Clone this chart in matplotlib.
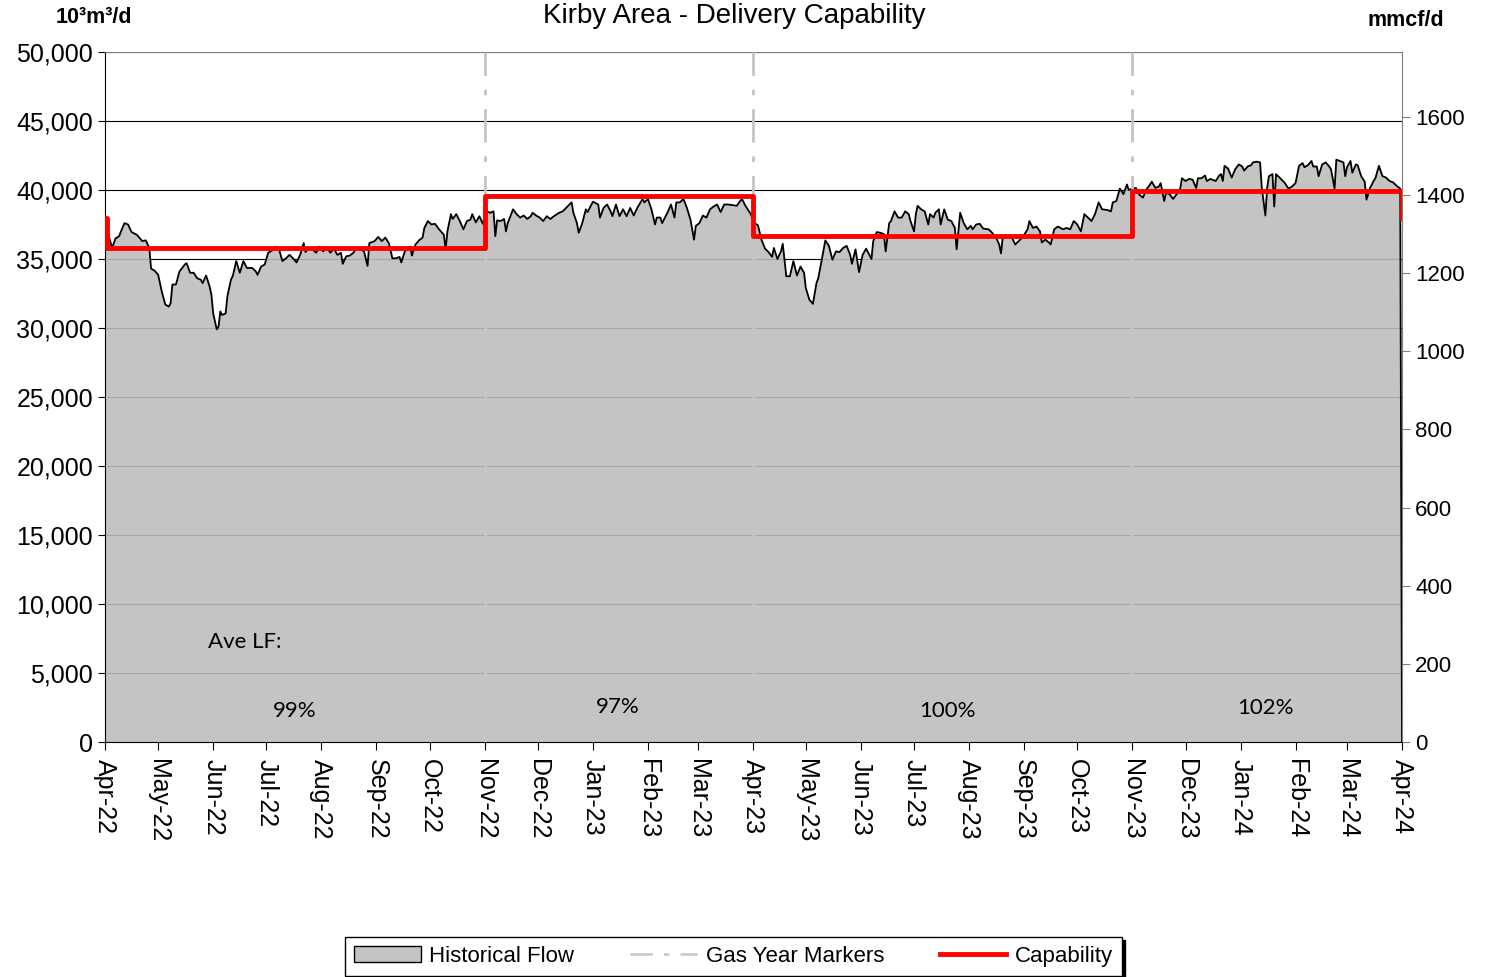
import numpy as np
import matplotlib
matplotlib.use('Agg')
import matplotlib.pyplot as plt
import matplotlib.dates as mdates
from matplotlib.lines import Line2D
from matplotlib.patches import Patch

plt.rcParams['font.family'] = ['Liberation Sans', 'DejaVu Sans']

start = np.datetime64('2022-04-01')

# historical flow, 10^3 m3/d (day offset from Apr 1 2022)
flow_days = [0, 1, 4, 6, 8, 9, 11, 13, 15, 18, 21, 23, 25, 26, 28, 30, 32, 34, 36, 37,
             38, 40, 42, 45, 46, 48, 50, 52, 54, 55, 57, 59, 60, 61, 63, 64, 65, 66, 68, 69,
             71, 72, 74, 76, 78, 80, 83, 85, 86, 88, 90, 92, 94, 96, 98, 100, 102, 104, 106, 108,
             110, 112, 113, 115, 117, 119, 121, 123, 125, 127, 129, 131, 133, 134, 136, 138, 140, 142, 144, 146,
             148, 149, 152, 154, 156, 158, 160, 162, 164, 166, 167, 169, 172, 173, 175, 177, 179, 180, 182, 184,
             186, 188, 191, 192, 193, 195, 196, 198, 200, 202, 204, 206, 207, 209, 211, 213, 215, 217, 219, 220,
             221, 223, 225, 226, 227, 230, 232, 234, 236, 238, 240, 241, 243, 245, 247, 249, 251, 253, 256, 258,
             261, 263, 264, 266, 267, 269, 271, 272, 275, 278, 279, 281, 283, 285, 286, 288, 290, 292, 294, 296,
             298, 300, 303, 304, 306, 308, 310, 311, 313, 314, 317, 319, 321, 322, 324, 326, 328, 330, 332, 333,
             335, 337, 339, 341, 343, 345, 347, 349, 351, 354, 356, 358, 359, 361, 363, 364, 366, 368, 370, 372,
             374, 376, 377, 379, 381, 382, 384, 386, 388, 390, 392, 394, 395, 397, 399, 401, 402, 404, 406, 408,
             410, 412, 414, 416, 418, 420, 421, 423, 425, 427, 429, 432, 433, 435, 437, 439, 440, 442, 443, 445,
             447, 449, 451, 453, 454, 456, 457, 458, 460, 462, 464, 465, 467, 468, 470, 471, 473, 475, 477, 479,
             480, 482, 484, 486, 488, 489, 491, 493, 495, 498, 500, 502, 504, 505, 506, 509, 511, 513, 515, 517,
             520, 521, 523, 525, 527, 528, 530, 532, 533, 535, 537, 540, 542, 544, 546, 548, 550, 552, 554, 556,
             558, 560, 562, 565, 567, 568, 570, 572, 574, 576, 577, 579, 581, 583, 585, 587, 589, 590, 592, 594,
             595, 597, 598, 600, 602, 604, 606, 607, 609, 611, 613, 615, 616, 618, 620, 621, 623, 626, 628, 629,
             630, 631, 633, 635, 637, 639, 641, 642, 644, 646, 647, 649, 651, 652, 654, 655, 656, 658, 659, 660,
             662, 665, 667, 669, 671, 673, 675, 676, 678, 680, 681, 683, 684, 686, 688, 690, 691, 693, 694, 696,
             698, 699, 700, 702, 703, 705, 706, 708, 710, 711, 713, 715, 716, 718, 720, 722, 724, 726, 728, 730,
             731]
flow_vals = [37300, 37200, 35800, 36500, 36650, 37000, 37600, 37500, 36950, 36750, 36300, 36350, 35800, 34300, 34150, 33850, 32650, 31700, 31550, 31800,
             33150, 33150, 34100, 34600, 34700, 34000, 34000, 33600, 33500, 33250, 33800, 33000, 32400, 31050, 29900, 30100, 31200, 30950, 31050, 32300,
             33500, 33750, 34850, 34000, 34850, 34350, 34350, 34100, 33850, 34450, 34600, 35450, 35600, 35900, 35750, 34850, 35050, 35300, 35050, 34750,
             35300, 36150, 35500, 35800, 35700, 35450, 35900, 35550, 35850, 35450, 35750, 35300, 35450, 34650, 35200, 35250, 35450, 35850, 35700, 35550,
             34500, 36150, 36300, 36600, 36300, 36550, 36150, 35050, 35050, 35150, 34750, 35550, 35900, 35250, 36050, 36350, 36550, 37250, 37750, 37500,
             37550, 37200, 36750, 35700, 37000, 38250, 37900, 38250, 37750, 37150, 37750, 37850, 38250, 37650, 38100, 37550, 38450, 38350, 38450, 36650,
             37800, 37750, 37900, 37000, 37600, 38600, 38250, 38000, 38150, 37900, 38100, 38350, 38150, 38000, 37750, 38100, 37900, 38100, 38350, 38450,
             38850, 39100, 38350, 37600, 36900, 37600, 38600, 38400, 39150, 38950, 38000, 38700, 38950, 38450, 38100, 38950, 38100, 38600, 38100, 38700,
             38150, 38700, 39350, 39100, 39350, 38600, 37500, 38000, 38000, 37600, 38350, 38950, 38000, 39100, 39100, 39350, 38700, 37850, 36400, 37400,
             37600, 38150, 38000, 38600, 38800, 38950, 38400, 38950, 38950, 38900, 38850, 39200, 39350, 38850, 38450, 38250, 37600, 37450, 36400, 35750,
             35500, 35150, 35800, 35000, 35550, 36100, 33750, 33750, 34850, 33800, 34450, 34000, 32900, 32050, 31750, 33250, 33600, 34950, 36350, 35950,
             34950, 35550, 35500, 35800, 35950, 35300, 34650, 35700, 34050, 35300, 35750, 35000, 36300, 36950, 36900, 36800, 35550, 37600, 37750, 38450,
             38000, 38000, 38450, 38250, 37750, 37000, 38250, 38850, 38600, 38450, 37500, 38250, 38000, 38350, 38600, 37500, 38600, 37850, 37750, 37250,
             35700, 38350, 37600, 37150, 37400, 37150, 37500, 37550, 37200, 37150, 36900, 36600, 36050, 35400, 36600, 36550, 36600, 36050, 36300, 36550,
             37150, 37750, 37250, 37350, 37000, 36200, 36400, 36200, 36050, 37150, 37350, 37150, 37250, 37150, 37750, 37500, 37000, 38250, 38000, 37750,
             38250, 39100, 38600, 38550, 38450, 39100, 39200, 40100, 39700, 40400, 40000, 40100, 40150, 39650, 39450, 40050, 40400, 40600, 40150, 40250,
             40500, 39200, 39800, 39700, 39350, 39700, 40100, 40850, 40650, 40800, 40750, 40150, 40850, 40850, 41050, 40650, 40800, 40650, 41050, 41150,
             40650, 41750, 41550, 40900, 41500, 41850, 41700, 41400, 41700, 41800, 42000, 42050, 42000, 40150, 38150, 40150, 41000, 41150, 38800, 41150,
             40900, 40500, 40100, 40250, 40500, 41750, 41950, 41650, 41800, 42100, 41700, 41700, 41000, 41850, 42000, 41700, 41500, 40100, 42200, 42100,
             42000, 41000, 41650, 42100, 41250, 41850, 41800, 41000, 40600, 39300, 40150, 40650, 40850, 41750, 41000, 40900, 40650, 40550, 40300, 40100,
             0]

# delivery capability steps
cap_days = [0, 1, 214, 365, 579, 731]
cap_vals = [38000, 35800, 39600, 36700, 39900, 38000]

gas_year_days = [214, 365, 579]

lf_labels = ['99%', '97%', '100%', '102%']
lf_days = [107, 289, 475, 654]
lf_vals = [2250, 2550, 2250, 2450]

MMCF = 28.317  # 10^3 m3 per mmcf

flow_x = start + np.array(flow_days).astype('timedelta64[D]')
cap_x = start + np.array(cap_days).astype('timedelta64[D]')

fig = plt.figure(figsize=(14.91, 9.77), dpi=100)
ax = fig.add_axes([0.0704, 0.2405, 0.8699, 0.7063])

ax.set_axisbelow(True)
ax.grid(axis='y', color='black', lw=0.8)
ax.fill_between(flow_x, flow_vals, 0, facecolor='#bdbdbd', alpha=0.89, lw=0, zorder=1)
ax.plot(flow_x, flow_vals, color='black', lw=1.3, zorder=2)

for d in gas_year_days:
    ax.axvline(start + np.timedelta64(d, 'D'), color='#c4c4c4', lw=2,
               dashes=(12, 5, 2, 5), zorder=3)

ax.plot(cap_x, cap_vals, color='#ff0000', lw=3.5, drawstyle='steps-post', zorder=4)

ax.set_xlim(start, start + np.timedelta64(731, 'D'))
ax.set_ylim(0, 50000)
ax.set_yticks(np.arange(0, 50001, 5000))
ax.yaxis.set_major_formatter(matplotlib.ticker.StrMethodFormatter('{x:,.0f}'))
ax.tick_params(axis='y', labelsize=18, length=5, direction='out')

ax.xaxis.set_major_locator(mdates.MonthLocator())
ax.xaxis.set_major_formatter(mdates.DateFormatter('%b-%y'))
ax.tick_params(axis='x', labelsize=18, length=6, pad=6, direction='out', rotation=-90)

for s in ['top', 'right']:
    ax.spines[s].set_color('#808080')

ax2 = ax.twinx()
ax2.set_ylim(0, 50000 / MMCF)
ax2.set_yticks(np.arange(0, 1601, 200))
ax2.tick_params(axis='y', labelsize=16, length=6, color='#808080')
for s in ax2.spines.values():
    s.set_visible(False)

ax.text(start + np.timedelta64(58, 'D'), 7250, 'Ave LF:', fontsize=16,
        family=['Lato', 'DejaVu Sans'], va='center', ha='left')
for lab, d, v in zip(lf_labels, lf_days, lf_vals):
    ax.text(start + np.timedelta64(d, 'D'), v, lab, fontsize=16,
            family=['Lato', 'DejaVu Sans'], va='center', ha='center')

fig.text(0.4926, 0.984, 'Kirby Area - Delivery Capability', ha='center', va='center', fontsize=20)
fig.text(0.063, 0.9816, '10³m³/d', ha='center', va='center', fontsize=15.5, weight='bold')
fig.text(0.943, 0.9795, 'mmcf/d', ha='center', va='center', fontsize=15.5, weight='bold')

handles = [Patch(facecolor='#c4c4c4', edgecolor='black', lw=1),
           Line2D([], [], color='#cccccc', lw=2, dashes=(8, 4, 2, 4)),
           Line2D([], [], color='#ff0000', lw=3.5)]
labels = ['Historical Flow', 'Gas Year Markers', 'Capability']
leg = fig.legend(handles, labels, loc='center', bbox_to_anchor=(0.492, 0.021), ncol=3,
                 fontsize=16, frameon=True, fancybox=False, edgecolor='black',
                 shadow={'color': 'black', 'alpha': 1}, handlelength=3,
                 columnspacing=2.5, borderpad=0.4, handletextpad=0.4)
leg.get_frame().set_linewidth(1)

fig.savefig('out.png', dpi=100)
